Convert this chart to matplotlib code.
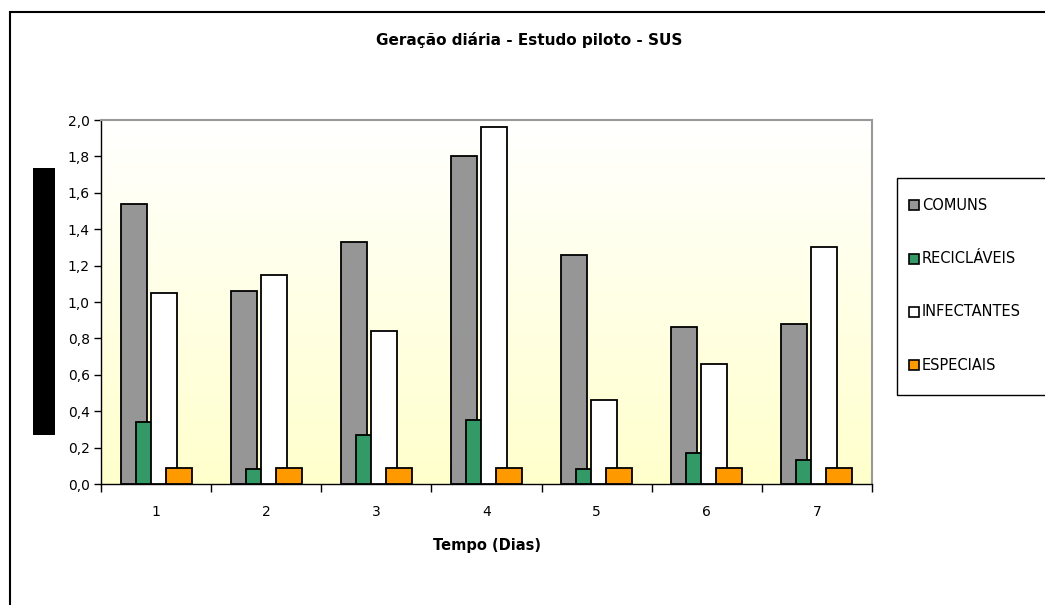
import numpy as np
import matplotlib
matplotlib.use('Agg')
import matplotlib.pyplot as plt
from matplotlib.patches import Rectangle

# data
dias = ['1', '2', '3', '4', '5', '6', '7']
comuns = [1.54, 1.06, 1.33, 1.80, 1.26, 0.86, 0.88]
reciclaveis = [0.34, 0.08, 0.27, 0.35, 0.08, 0.17, 0.13]
infectantes = [1.05, 1.15, 0.84, 1.96, 0.46, 0.66, 1.30]
especiais = [0.09, 0.09, 0.09, 0.09, 0.09, 0.09, 0.09]

series = [('COMUNS', comuns, '#969696'),
          ('RECICLÁVEIS', reciclaveis, '#339966'),
          ('INFECTANTES', infectantes, '#FFFFFF'),
          ('ESPECIAIS', especiais, '#FF9900')]

plt.rcParams['font.family'] = ['DejaVu Sans']

fig = plt.figure(figsize=(10.45, 6.05), dpi=100)
W, H = 1045, 605
ax = fig.add_axes([101 / W, 1 - 484 / H, (872 - 101) / W, (484 - 120) / H])

# gradient background (white at top, pale yellow at bottom)
grad = np.linspace(0, 1, 256).reshape(-1, 1)
top = np.array([1.0, 1.0, 1.0])
bot = np.array([1.0, 1.0, 0.80])
img = top + (bot - top) * grad[..., None] * np.ones((1, 1, 3))
ax.imshow(img[::-1], extent=[0, 7, 0, 2.0], aspect='auto', zorder=0, origin='lower')

x = np.arange(len(dias)) + 0.5
step = 0.136
width = 0.236
for i, (name, vals, col) in enumerate(series):
    ax.bar(x + (i - 1.5) * step, vals, width, color=col, edgecolor='black',
           linewidth=1.3, zorder=2 + i, label=name)

ax.set_xlim(0, 7)
ax.set_ylim(0, 2.0)
yt = np.arange(0, 2.01, 0.2)
ax.set_yticks(yt)
ax.set_yticklabels([f'{v:.1f}'.replace('.', ',') for v in yt], fontsize=10)
ax.set_xticks(np.arange(0, 8), minor=False)
ax.set_xticklabels([])
ax.set_xticks(x, minor=True)
ax.set_xticklabels(dias, minor=True, fontsize=10)
ax.tick_params(axis='x', which='major', direction='out', length=6, width=1)
ax.tick_params(axis='x', which='minor', length=0, pad=15)
ax.tick_params(axis='y', direction='out', length=5, width=1, pad=3)

for s in ['left', 'bottom']:
    ax.spines[s].set_color('black')
    ax.spines[s].set_linewidth(1)
for s in ['top', 'right']:
    ax.spines[s].set_color('#999999')
    ax.spines[s].set_linewidth(1.5)

ax.set_xlabel('Tempo (Dias)', fontsize=10.5, fontweight='bold', labelpad=14)
fig.text(529 / W, 1 - 40 / H, 'Geração diária - Estudo piloto - SUS',
         ha='center', va='center', fontsize=11, fontweight='bold')

# redacted y label block
fig.patches.append(Rectangle((33 / W, 1 - 435 / H), 22 / W, 267 / H,
                             transform=fig.transFigure, facecolor='black',
                             edgecolor='none'))
# outer chart border (runs off the right and bottom)
fig.patches.append(Rectangle((10 / W, -0.05), 1.1, 1 - 12 / H + 0.05,
                             transform=fig.transFigure, facecolor='none',
                             edgecolor='black', linewidth=1.5, clip_on=False))

# legend box, cut off at the right edge like the original
fig.patches.append(Rectangle((897 / W, 1 - 395 / H), 0.2, (395 - 178) / H,
                             transform=fig.transFigure, facecolor='white',
                             edgecolor='black', linewidth=1, clip_on=False))
leg_y = [205, 259, 312, 365]
for (name, _, col), yy in zip(series, leg_y):
    fig.patches.append(Rectangle((909 / W, 1 - (yy + 5) / H), 10 / W, 10 / H,
                                 transform=fig.transFigure, facecolor=col,
                                 edgecolor='black', linewidth=1.2))
    fig.text(922 / W, 1 - yy / H, name, ha='left', va='center', fontsize=10.5)

fig.savefig('out.png', dpi=100)
